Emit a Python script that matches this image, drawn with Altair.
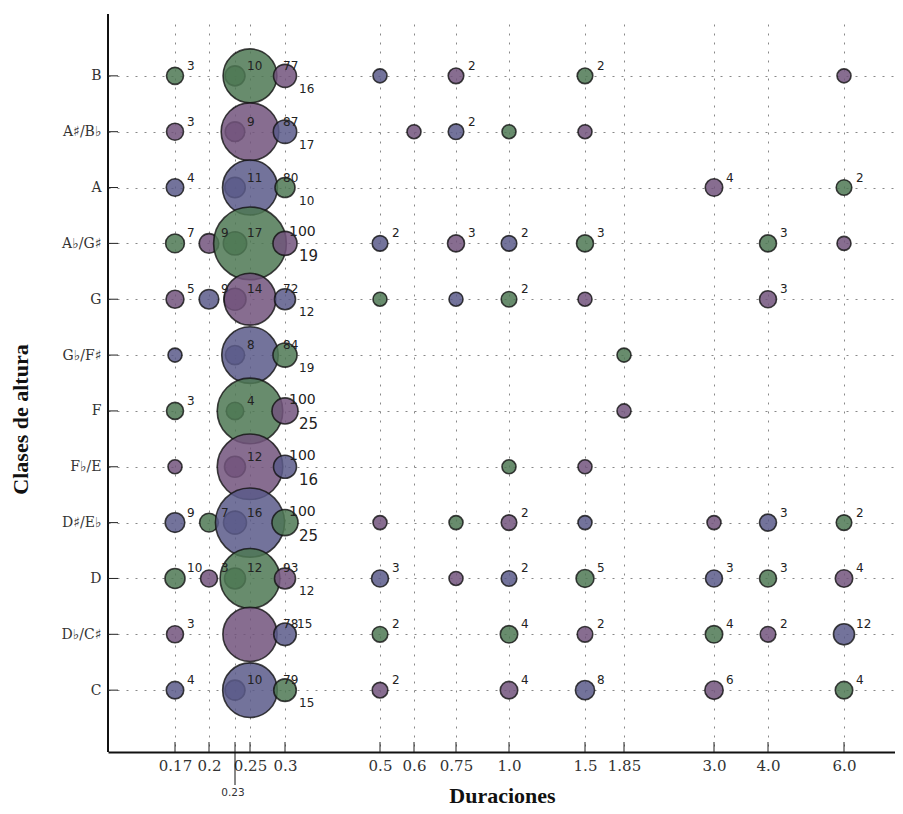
import pandas as pd
import altair as alt

PITCHES = ["B", "A♯/B♭", "A", "A♭/G♯", "G", "G♭/F♯", "F", "F♭/E", "D♯/E♭", "D", "D♭/C♯", "C"]
TICKS = [0.17, 0.2, 0.23, 0.25, 0.3, 0.5, 0.6, 0.75, 1.0, 1.5, 1.85, 3.0, 4.0, 6.0]

# Durations, counts and colour group of each pitch class (g/p/b).
# Counts above 100 are the circles printed with a "100" label, read from their area.
b_dur = [0.17, 0.23, 0.25, 0.3, 0.5, 0.75, 1.5, 6.0]
b_cnt = [3, 10, 77, 16, 1, 2, 2, 1]
b_grp = list("gggpbpgp")

as_dur = [0.17, 0.23, 0.25, 0.3, 0.6, 0.75, 1.0, 1.5]
as_cnt = [3, 9, 87, 17, 1, 2, 1, 1]
as_grp = list("pppbpbgp")

a_dur = [0.17, 0.23, 0.25, 0.3, 3.0, 6.0]
a_cnt = [4, 11, 80, 10, 4, 2]
a_grp = list("bbbgpg")

ab_dur = [0.17, 0.2, 0.23, 0.25, 0.3, 0.5, 0.75, 1.0, 1.5, 4.0, 6.0]
ab_cnt = [7, 9, 17, 137, 19, 2, 3, 2, 3, 3, 1]
ab_grp = list("gpggpbpbggp")

g_dur = [0.17, 0.2, 0.23, 0.25, 0.3, 0.5, 0.75, 1.0, 1.5, 4.0]
g_cnt = [5, 9, 14, 72, 12, 1, 1, 2, 1, 3]
g_grp = list("pbppbgbgpp")

gb_dur = [0.17, 0.23, 0.25, 0.3, 1.85]
gb_cnt = [1, 8, 84, 19, 1]
gb_grp = list("bbbgg")

f_dur = [0.17, 0.23, 0.25, 0.3, 1.85]
f_cnt = [3, 4, 110, 25, 1]
f_grp = list("gggpp")

fb_dur = [0.17, 0.23, 0.25, 0.3, 1.0, 1.5]
fb_cnt = [1, 12, 110, 16, 1, 1]
fb_grp = list("pppbgp")

ds_dur = [0.17, 0.2, 0.23, 0.25, 0.3, 0.5, 0.75, 1.0, 1.5, 3.0, 4.0, 6.0]
ds_cnt = [9, 7, 16, 123, 25, 1, 1, 2, 1, 1, 3, 2]
ds_grp = list("bgbbgpgpbpbg")

d_dur = [0.17, 0.2, 0.23, 0.25, 0.3, 0.5, 0.75, 1.0, 1.5, 3.0, 4.0, 6.0]
d_cnt = [10, 3, 12, 93, 12, 3, 1, 2, 5, 3, 3, 4]
d_grp = list("gpggpbpbgbgp")

db_dur = [0.17, 0.25, 0.3, 0.5, 1.0, 1.5, 3.0, 4.0, 6.0]
db_cnt = [3, 78, 15, 2, 4, 2, 4, 2, 12]
db_grp = list("ppbggpgpb")

c_dur = [0.17, 0.23, 0.25, 0.3, 0.5, 1.0, 1.5, 3.0, 6.0]
c_cnt = [4, 10, 79, 15, 2, 4, 8, 6, 4]
c_grp = list("bbbgppbpg")

ROWS = [
    (b_dur, b_cnt, b_grp), (as_dur, as_cnt, as_grp), (a_dur, a_cnt, a_grp),
    (ab_dur, ab_cnt, ab_grp), (g_dur, g_cnt, g_grp), (gb_dur, gb_cnt, gb_grp),
    (f_dur, f_cnt, f_grp), (fb_dur, fb_cnt, fb_grp), (ds_dur, ds_cnt, ds_grp),
    (d_dur, d_cnt, d_grp), (db_dur, db_cnt, db_grp), (c_dur, c_cnt, c_grp),
]

records = []
for pitch, (durs, cnts, grps) in zip(PITCHES, ROWS):
    enlarged = max(cnts) > 100
    for dur, cnt, grp in zip(durs, cnts, grps):
        records.append({"pitch": pitch, "dur": dur, "cnt": cnt, "grp": grp,
                        "label": str(min(cnt, 100)), "big": enlarged and dur in (0.25, 0.3)})
df = pd.DataFrame(records).sort_values("dur", kind="stable")

X_SCALE = alt.Scale(
    domain=[0.13] + TICKS + [7.9],
    range=[0, 67, 101, 127, 142, 177, 272, 306, 348, 401, 477, 516, 606, 660, 736, 787],
    nice=False, zero=False,
)
# Point padding stops at 1 step, so the range is pulled in a little to get the wider margins:
Y_SCALE = alt.Scale(type="point", domain=PITCHES, padding=1, range=[6, 732], round=False)

x_enc = alt.X(
    "dur:Q",
    scale=X_SCALE,
    title="Duraciones",
    axis=alt.Axis(
        values=TICKS,
        labelExpr="datum.value == 0.23 ? '' : (datum.value % 1 === 0 ? format(datum.value, '.1f') : format(datum.value, '~g'))",
        labelFont="DejaVu Serif", labelFontSize=15, labelColor="#333", labelPadding=6,
        labelOverlap=False, labelFlush=False,
        ticks=False, domainColor="#111", domainWidth=2,
        grid=True, gridColor="#888", gridDash=[2, 7], gridWidth=1,
        titleFont="Liberation Serif", titleFontSize=22, titleFontWeight="bold", titleColor="#111",
        titleX=394, titleY=33,
    ),
)
y_enc = alt.Y(
    "pitch:N",
    scale=Y_SCALE,
    sort=PITCHES,
    title="Clases de altura",
    axis=alt.Axis(
        labelExpr="length(datum.label) > 1 ? datum.label + '\u00a0' : datum.label",
        labelFont="DejaVu Serif", labelFontSize=14, labelColor="#333", labelPadding=7,
        ticks=False, domain=False,
        grid=True, gridColor="#888", gridDash=[2, 7], gridWidth=1,
        titleFont="Liberation Serif", titleFontSize=22, titleFontWeight="bold", titleColor="#111",
        titleX=-76, titleY=405,
    ),
)

# Circles: area grows with the count, but not in a straight line.
circles = alt.Chart(df).mark_point(
    filled=True, shape="circle", fillOpacity=0.85, stroke="#111", strokeWidth=1.6, strokeOpacity=0.8
).encode(
    x=x_enc,
    y=y_enc,
    color=alt.Color("grp:N", scale=alt.Scale(domain=["g", "p", "b"], range=["#4e7854", "#72547d", "#5a5a89"]), legend=None),
    size=alt.Size("cnt:Q", scale=alt.Scale(domain=[1, 3, 10, 16, 25, 77, 110, 137], range=[196, 289, 400, 529, 680, 2900, 4300, 5300]), legend=None),
)

# Left spine, since the y range no longer spans the whole height:
spine = alt.Chart(pd.DataFrame({"a": [0]})).mark_rule(color="#111", strokeWidth=2).encode(
    x=alt.value(0), y=alt.value(0), y2=alt.value(738))

# Inward ticks:
ticks_x = alt.Chart(pd.DataFrame({"dur": TICKS})).mark_rule(color="#222").encode(
    x=x_enc, y=alt.value(728), y2=alt.value(738))
ticks_y = alt.Chart(pd.DataFrame({"pitch": PITCHES})).mark_rule(color="#222").encode(
    y=y_enc, x=alt.value(0), x2=alt.value(10))

# The 0.23 tick hangs below the axis with its own small label:
low = pd.DataFrame({"dur": [0.23], "label": ["0.23"]})
low_rule = alt.Chart(low).mark_rule(color="#111").encode(
    x=x_enc, y=alt.value(738), y2=alt.value(771))
low_text = alt.Chart(low).mark_text(font="DejaVu Sans", fontSize=10.5, color="#333", dx=-2).encode(
    x=x_enc, y=alt.value(779), text="label:N")


def labels(subset, dx, dy, size):
    return alt.Chart(subset).mark_text(
        font="DejaVu Sans", fontSize=size, color="#222", align="left", baseline="middle", dx=dx, dy=dy
    ).encode(x=x_enc, y=y_enc, text="label:N")


shown = df[df["cnt"] > 1]
low_right = (shown["dur"] == 0.3) & (shown["pitch"] != "D♭/C♯")
plain = shown[(shown["dur"] != 0.25) & ~low_right]
mid = shown[shown["dur"] == 0.25]
right = shown[low_right]

chart = alt.layer(
    circles, spine, ticks_x, ticks_y, low_rule, low_text,
    labels(plain, 12, -10, 12),
    labels(mid[~mid["big"]], 33, -10, 12),
    labels(mid[mid["big"]], 39, -11, 14),
    labels(right[~right["big"]], 14, 13, 12),
    labels(right[right["big"]], 14, 13, 15),
).properties(
    width=787,
    height=738,
    padding={"left": 100, "top": 6, "right": 0, "bottom": 54},
    autosize=alt.AutoSizeParams(type="none"),
    background="white",
).configure_view(stroke=None)

chart.save("out.html", embed_options={"renderer": "svg", "actions": False})
